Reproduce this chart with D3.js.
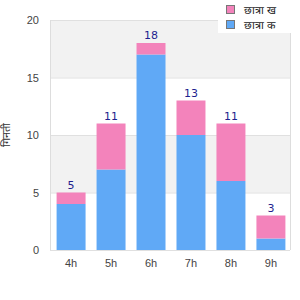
<!DOCTYPE html>
<html>
<head>
<meta charset="utf-8">
<script src="https://d3js.org/d3.v7.min.js"></script>
<style>
body { margin: 0; background: #fff; font-family: "DejaVu Sans", sans-serif; }
.tick text { fill: #444; font-size: 11px; }
</style>
</head>
<body>
<script>
// chart data
var hours = ["4h", "5h", "6h", "7h", "8h", "9h"];
var blueVals = [4, 7, 17, 10, 6, 1];
var pinkVals = [1, 4, 1, 3, 5, 2];
var yTicks = [0, 5, 10, 15, 20];
var seriesNames = ["छात्रा ख", "छात्रा क"];
var yTitle = "गिनती";

var width = 300, height = 300;
var plotLeft = 50, plotRight = 290, plotTop = 20, plotBottom = 250;
var pink = "#f383bb", blue = "#60a9f6";

var svg = d3.select("body").append("svg")
  .attr("width", width)
  .attr("height", height);

// bars sit slightly right of centre in the reference
var x = d3.scaleBand().domain(hours).range([plotLeft + 1, plotRight + 1])
  .paddingInner(0.275).paddingOuter(0.14);
var y = d3.scaleLinear().domain([0, 20]).range([plotBottom, plotTop]);

// alternating bands
for (var i = 0; i < yTicks.length - 1; i++) {
  svg.append("rect")
    .attr("x", plotLeft).attr("width", plotRight - plotLeft)
    .attr("y", y(yTicks[i + 1]))
    .attr("height", y(yTicks[i]) - y(yTicks[i + 1]))
    .attr("fill", i % 2 == 1 ? "#f2f2f2" : "#fff");
}

// grid lines
svg.selectAll(".grid").data(yTicks).enter().append("line")
  .attr("x1", plotLeft).attr("x2", plotRight)
  .attr("y1", function(d) { return y(d) + 0.5; })
  .attr("y2", function(d) { return y(d) + 0.5; })
  .attr("stroke", "#e0e0e0");

// side borders
svg.append("line").attr("x1", plotLeft + 0.5).attr("x2", plotLeft + 0.5)
  .attr("y1", plotTop).attr("y2", plotBottom).attr("stroke", "#ddd");
svg.append("line").attr("x1", plotRight + 0.5).attr("x2", plotRight + 0.5)
  .attr("y1", plotTop).attr("y2", plotBottom).attr("stroke", "#ddd");

// bars
var g = svg.append("g");
g.selectAll(".b").data(hours).enter().append("rect")
  .attr("x", function(d) { return x(d); })
  .attr("width", x.bandwidth())
  .attr("y", function(d, i) { return y(blueVals[i]); })
  .attr("height", function(d, i) { return y(0) - y(blueVals[i]); })
  .attr("fill", blue);
g.selectAll(".p").data(hours).enter().append("rect")
  .attr("x", function(d) { return x(d); })
  .attr("width", x.bandwidth())
  .attr("y", function(d, i) { return y(blueVals[i] + pinkVals[i]); })
  .attr("height", function(d, i) { return y(blueVals[i]) - y(blueVals[i] + pinkVals[i]); })
  .attr("fill", pink);

// totals
g.selectAll(".t").data(hours).enter().append("text")
  .attr("x", function(d) { return x(d) + x.bandwidth() / 2; })
  .attr("y", function(d, i) { return y(blueVals[i] + pinkVals[i]) - 4; })
  .attr("text-anchor", "middle")
  .attr("font-size", "11px")
  .attr("fill", "#1f1f8f")
  .text(function(d, i) { return blueVals[i] + pinkVals[i]; });

// axes
var yAxis = svg.append("g").attr("transform", "translate(" + (plotLeft - 8) + ",0)")
  .call(d3.axisLeft(y).tickValues(yTicks).tickSize(0));
yAxis.select(".domain").remove();

var xAxis = svg.append("g").attr("transform", "translate(0," + plotBottom + ")")
  .call(d3.axisBottom(x).tickSize(0).tickPadding(9));
xAxis.select(".domain").remove();

svg.append("text")
  .attr("transform", "translate(10," + ((plotTop + plotBottom) / 2) + ") rotate(-90)")
  .attr("text-anchor", "middle")
  .attr("font-size", "11px")
  .attr("fill", "#333")
  .text(yTitle);

// legend
var legend = svg.append("g");
legend.append("rect").attr("x", 218).attr("y", 0).attr("width", 82).attr("height", 33)
  .attr("fill", "#fff");
[pink, blue].forEach(function(c, i) {
  legend.append("rect").attr("x", 226.5).attr("y", 5.5 + i * 15)
    .attr("width", 8).attr("height", 8)
    .attr("fill", c).attr("stroke", "#777");
  legend.append("text").attr("x", 244).attr("y", 13.5 + i * 15)
    .attr("font-size", "11px").attr("fill", "#222")
    .text(seriesNames[i]);
});
</script>
</body>
</html>
